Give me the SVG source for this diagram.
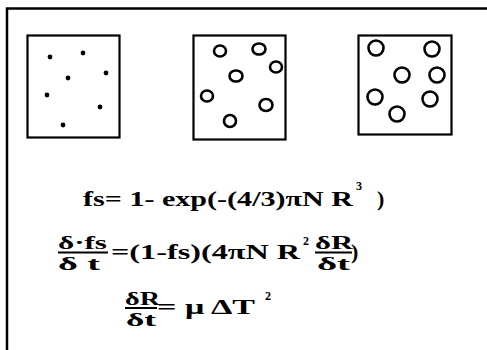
<svg xmlns="http://www.w3.org/2000/svg" width="487" height="350" viewBox="0 0 487 350">
<style>
.frame{fill:none;stroke:#000;stroke-width:2.5}
.box{fill:none;stroke:#000;stroke-width:2.2}
.dot{fill:#000}
.ring{fill:none;stroke:#000;stroke-width:2.6}
.eq{font-family:"Liberation Serif","Times New Roman",serif;font-weight:bold;font-size:22px;fill:#000}
.fr{font-family:"Liberation Serif","Times New Roman",serif;font-weight:bold;font-size:18px;fill:#000}
.sup{font-family:"Liberation Serif","Times New Roman",serif;font-weight:bold;font-size:12px;fill:#000}
.bar{stroke:#000;stroke-width:2}
</style>
<rect width="487" height="350" fill="#fff"/>
<path class="frame" d="M7,350 V8.5 H487"/>
<g id="box1">
<rect class="box" x="27.5" y="35.5" width="92" height="102"/>
<circle class="dot" cx="50" cy="57" r="2.4"/>
<circle class="dot" cx="83" cy="53" r="2.4"/>
<circle class="dot" cx="68" cy="78" r="2.4"/>
<circle class="dot" cx="106" cy="73" r="2.4"/>
<circle class="dot" cx="47" cy="95" r="2.4"/>
<circle class="dot" cx="100" cy="107" r="2.4"/>
<circle class="dot" cx="63" cy="125" r="2.4"/>
</g>
<g id="box2">
<rect class="box" x="193.5" y="35.5" width="92" height="104"/>
<ellipse class="ring" cx="220" cy="51" rx="6" ry="5.5"/>
<ellipse class="ring" cx="259" cy="49" rx="6.5" ry="5.5"/>
<ellipse class="ring" cx="276" cy="67" rx="6" ry="5.5"/>
<ellipse class="ring" cx="236" cy="76" rx="6.5" ry="5.5"/>
<ellipse class="ring" cx="207" cy="96" rx="6" ry="5.5"/>
<ellipse class="ring" cx="266" cy="105" rx="6.5" ry="6"/>
<ellipse class="ring" cx="230" cy="121" rx="6" ry="6"/>
</g>
<g id="box3">
<rect class="box" x="358.5" y="35.5" width="93" height="99"/>
<circle class="ring" cx="376" cy="48" r="7.5"/>
<circle class="ring" cx="432" cy="49" r="7.5"/>
<circle class="ring" cx="402" cy="75" r="7.5"/>
<circle class="ring" cx="437" cy="75" r="7.5"/>
<circle class="ring" cx="375" cy="97" r="7.5"/>
<circle class="ring" cx="430" cy="99" r="7.5"/>
<circle class="ring" cx="397" cy="114" r="7.5"/>
</g>
<g id="eq1">
<text class="eq" x="83" y="206" textLength="270" lengthAdjust="spacingAndGlyphs">fs= 1- exp(-(4/3)πN R</text>
<text class="sup" x="356" y="190">3</text>
<text class="eq" x="377" y="206">)</text>
</g>
<g id="eq2">
<text class="fr" x="58" y="249" textLength="49" lengthAdjust="spacingAndGlyphs">δ·fs</text>
<line class="bar" x1="58" y1="252.5" x2="108" y2="252.5"/>
<text class="fr" x="58" y="270" textLength="42" lengthAdjust="spacingAndGlyphs">δ t</text>
<text class="eq" x="111" y="259" textLength="189" lengthAdjust="spacingAndGlyphs">=(1-fs)(4πN R</text>
<text class="sup" x="303" y="245">2</text>
<text class="fr" x="315" y="249" textLength="38" lengthAdjust="spacingAndGlyphs">δR</text>
<line class="bar" x1="315" y1="252.5" x2="352" y2="252.5"/>
<text class="fr" x="317" y="270" textLength="33" lengthAdjust="spacingAndGlyphs">δt</text>
<text class="eq" x="351" y="259">)</text>
</g>
<g id="eq3">
<text class="fr" x="125" y="305" textLength="35" lengthAdjust="spacingAndGlyphs">δR</text>
<line class="bar" x1="125" y1="308" x2="157" y2="308"/>
<text class="fr" x="126" y="326" textLength="30" lengthAdjust="spacingAndGlyphs">δt</text>
<text class="eq" x="157" y="314" textLength="98" lengthAdjust="spacingAndGlyphs">= μ ΔT</text>
<text class="sup" x="265" y="300">2</text>
</g>
</svg>
